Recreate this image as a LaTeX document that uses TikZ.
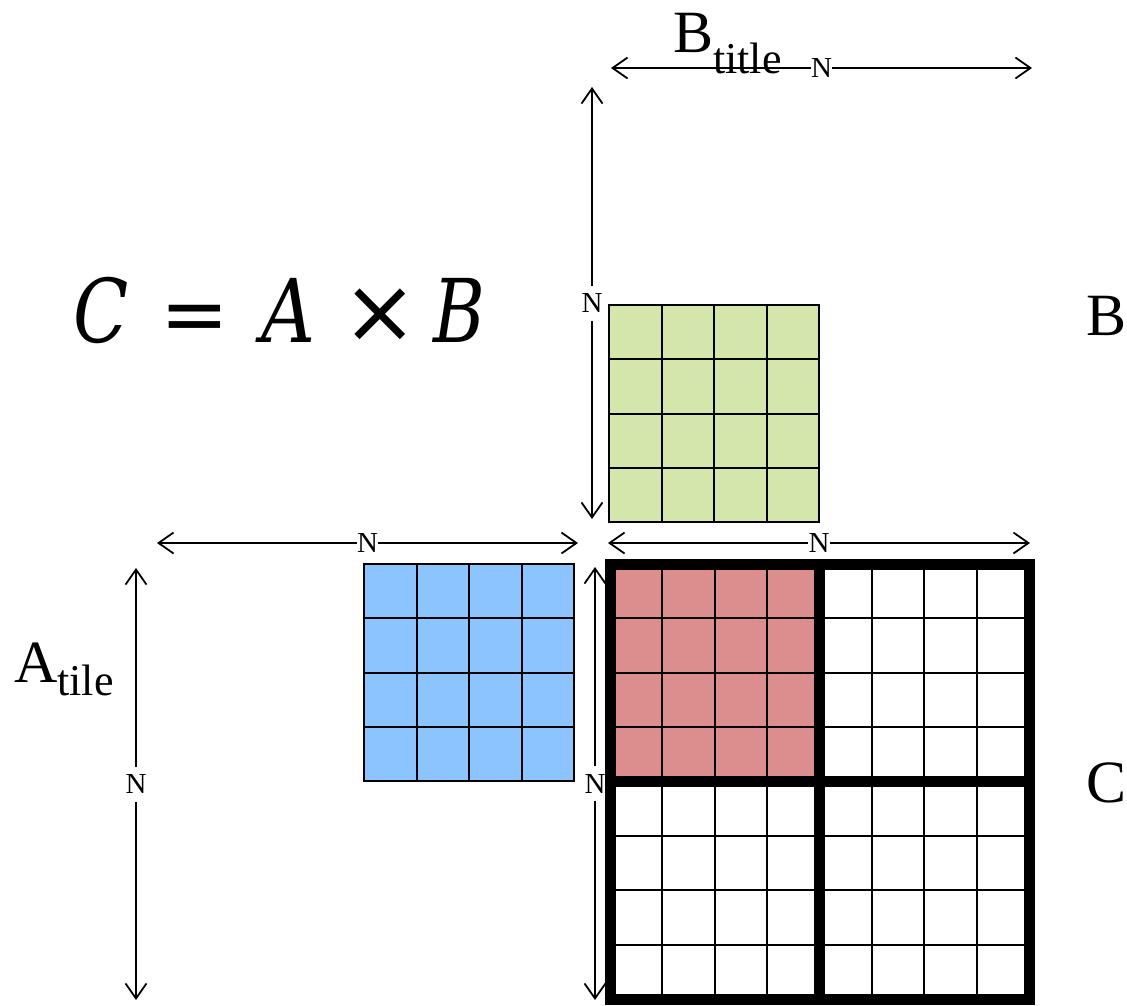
\documentclass[tikz,border=0pt]{standalone}
\usepackage{fontspec}
\setmainfont{Liberation Serif}
\newfontfamily\eqfont{DejaVu Serif}
\newfontfamily\eqsym{DejaVu Sans}
\usepackage{graphicx}
\usetikzlibrary{arrows.meta,calc}
\definecolor{bgreen}{HTML}{D5E6AD}
\definecolor{ablue}{HTML}{8BC4FF}
\definecolor{cred}{HTML}{DC8D8D}
\begin{document}
\begin{tikzpicture}[x=1pt,y=-1pt,
  dimarrow/.style={line width=1.8pt, {Straight Barb[length=15pt,width=21pt,line width=1.8pt]}-{Straight Barb[length=15pt,width=21pt,line width=1.8pt]}},
  nlabel/.style={fill=white, inner xsep=0.5pt, inner ysep=8pt, font=\fontsize{29}{31}\selectfont},
  tilebox/.style={draw, line width=2pt, inner sep=0, outer sep=0, anchor=north west, minimum width=210pt, minimum height=217pt},
  gridline/.style={line width=2pt},
  bigline/.style={line width=11pt},
  lbl/.style={inner sep=0, anchor=base west, font=\fontsize{60}{64}\selectfont}]
\useasboundingbox (0,0) rectangle (1127,1005);

% dimension arrows
\coordinate (t1) at (611,68);  \coordinate (t2) at (1032,68);
\coordinate (v1a) at (592,87); \coordinate (v1b) at (592,519);
\coordinate (h1a) at (157,543); \coordinate (h1b) at (578,543);
\coordinate (h2a) at (608,543); \coordinate (h2b) at (1030,543);
\coordinate (v2a) at (136,568); \coordinate (v2b) at (136,1000);
\coordinate (v3a) at (595,567); \coordinate (v3b) at (595,1000);
\draw[dimarrow] (t1) -- node[nlabel] (nt) {N} (t2);
\draw[dimarrow] (v1a) -- node[nlabel] (nv1) {N} (v1b);
\draw[dimarrow] (h1a) -- node[nlabel] (nh1) {N} (h1b);
\draw[dimarrow] (h2a) -- node[nlabel] (nh2) {N} (h2b);
\draw[dimarrow] (v2a) -- node[nlabel] (nv2) {N} (v2b);
\draw[dimarrow] (v3a) -- node[nlabel] (nv3) {N} (v3b);

% B tile
\node[tilebox, fill=bgreen] (Bt) at (609,305) {};
\foreach \i in {1,2,3} {
  \draw[gridline] ($(Bt.north west)!\i/4!(Bt.north east)$) -- ($(Bt.south west)!\i/4!(Bt.south east)$);
  \draw[gridline] ($(Bt.north west)!\i/4!(Bt.south west)$) -- ($(Bt.north east)!\i/4!(Bt.south east)$);
}

% A tile
\node[tilebox, fill=ablue] (At) at (364,564) {};
\foreach \i in {1,2,3} {
  \draw[gridline] ($(At.north west)!\i/4!(At.north east)$) -- ($(At.south west)!\i/4!(At.south east)$);
  \draw[gridline] ($(At.north west)!\i/4!(At.south west)$) -- ($(At.north east)!\i/4!(At.south east)$);
}

% C matrix
\node[inner sep=0, outer sep=0, anchor=north west, minimum width=419pt, minimum height=435pt] (Ct) at (610,564) {};
\fill[cred] (Ct.north west) rectangle (Ct.center);
\foreach \i in {1,...,7} {
  \draw[gridline] ($(Ct.north west)!\i/8!(Ct.north east)$) -- ($(Ct.south west)!\i/8!(Ct.south east)$);
  \draw[gridline] ($(Ct.north west)!\i/8!(Ct.south west)$) -- ($(Ct.north east)!\i/8!(Ct.south east)$);
}
\draw[bigline] (Ct.north) -- (Ct.south);
\draw[bigline] (Ct.west) -- (Ct.east);
\draw[bigline] (Ct.north west) rectangle (Ct.south east);

% labels
\node[lbl] (btitle) at (673,52) {B\raisebox{-21pt}{\fontsize{44}{46}\selectfont title}};
\node[lbl] (atile) at (14,682) {A\raisebox{-13pt}{\fontsize{44}{46}\selectfont tile}};
\node[lbl] (blab) at (1086,335) {B};
\node[lbl] (clab) at (1086,802) {C};

% equation
\node[inner sep=0, anchor=base west] (eq) at (73,342) {\eqfont\fontsize{88}{92}\selectfont
  \rlap{\scalebox{0.82}[1]{\textit{C}}}\hspace{87pt}%
  \rlap{\eqsym\fontsize{82}{82}\selectfont=}\hspace{101pt}%
  \rlap{\scalebox{0.85}[1]{\textit{A}}}\hspace{81pt}%
  \rlap{\eqsym\fontsize{90}{90}\selectfont×}\hspace{91pt}%
  \scalebox{0.8}[1]{\textit{B}}};
\end{tikzpicture}
\end{document}
